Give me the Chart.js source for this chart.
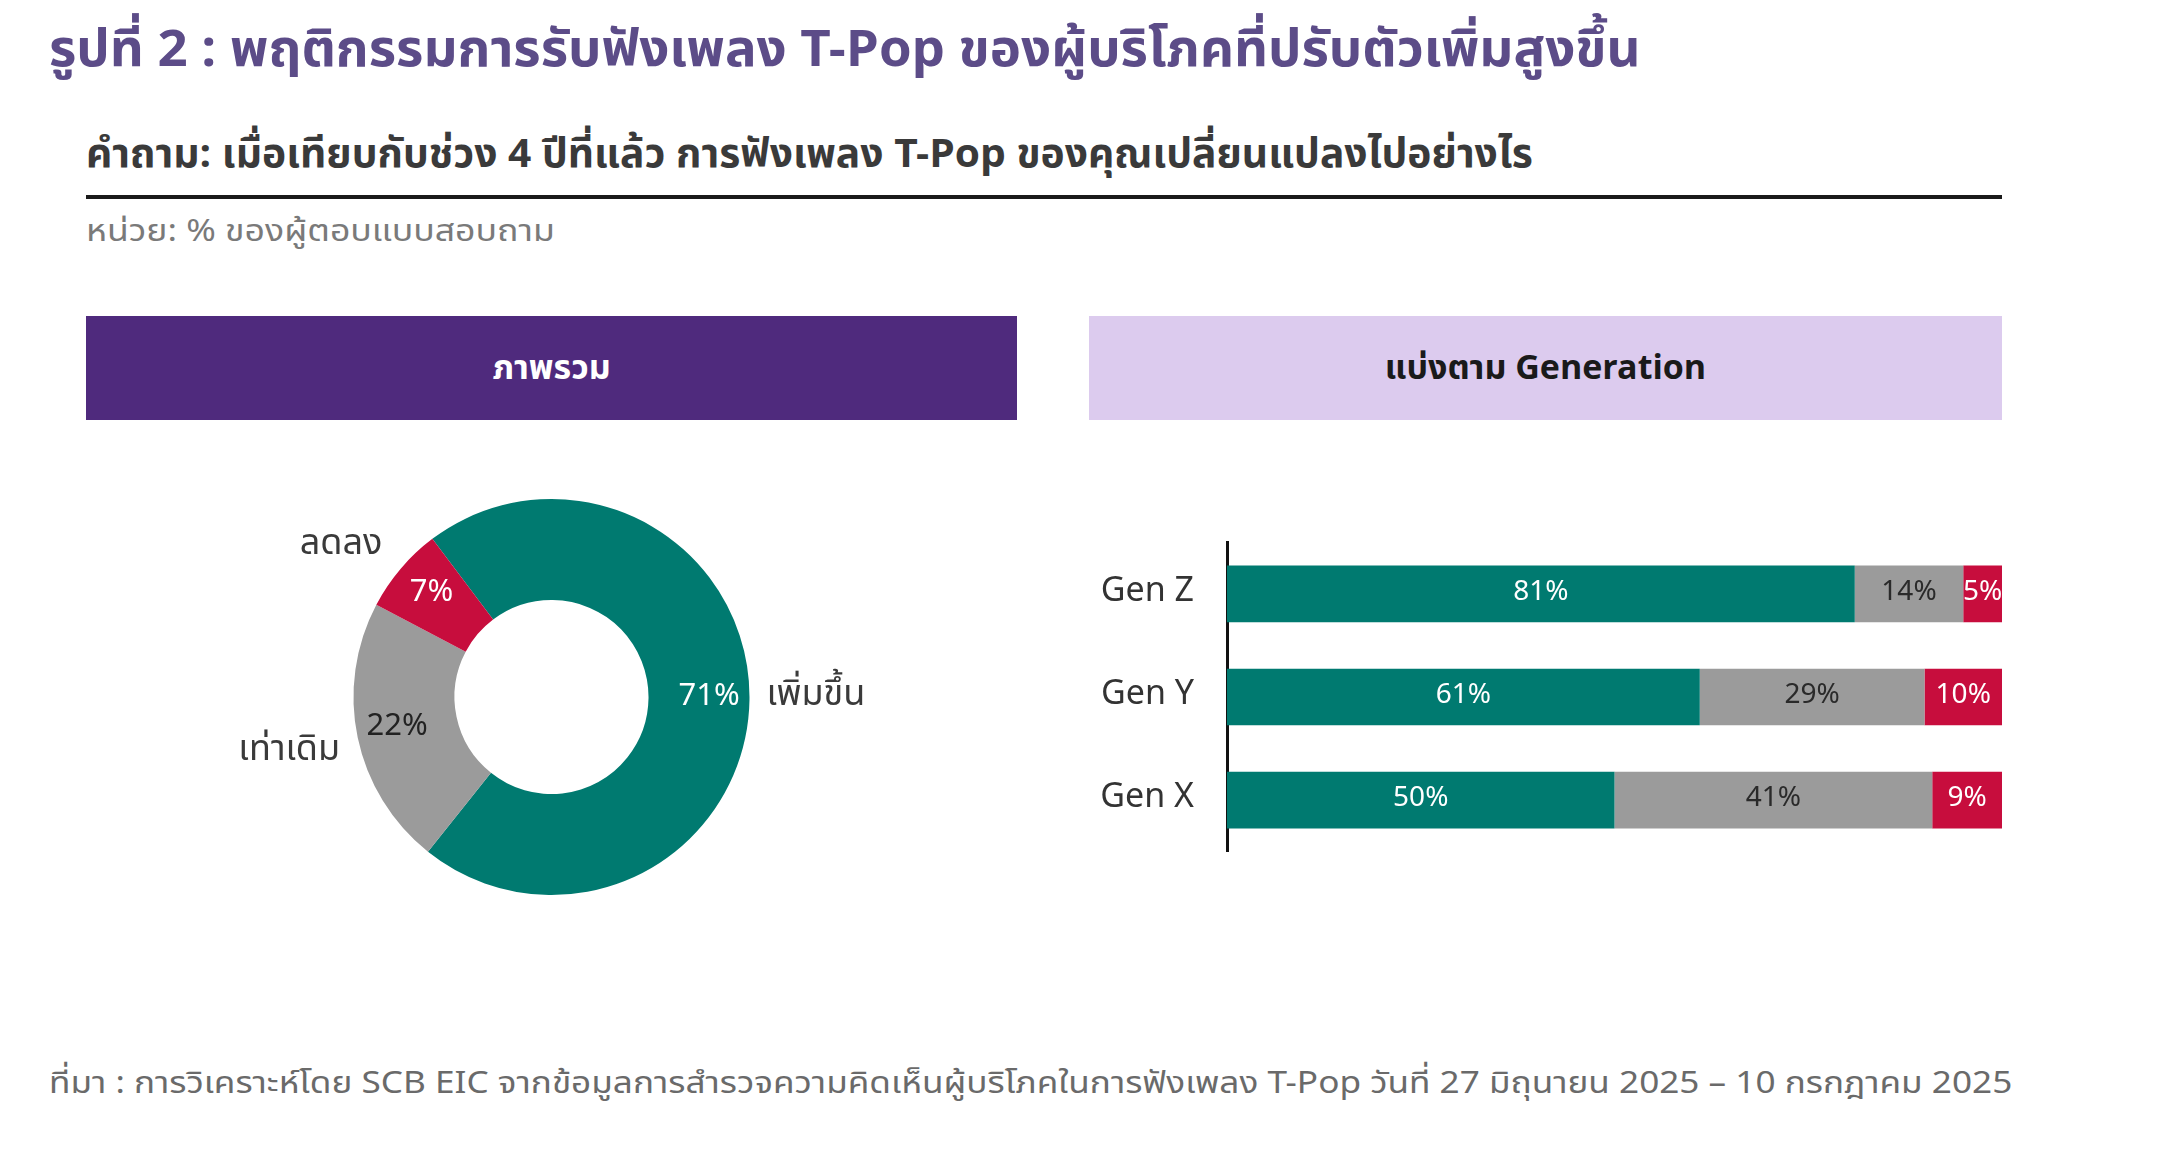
<!DOCTYPE html>
<html>
<head>
<meta charset="utf-8">
<script src="https://cdn.jsdelivr.net/npm/chart.js@4.4.1/dist/chart.umd.min.js"></script>
<style>
    html, body { margin: 0; padding: 0; background: #ffffff; }
    body { width: 2176px; height: 1150px; position: relative; overflow: hidden;
           font-family: "Noto Sans Thai", "Noto Sans", "Noto Sans CJK SC", sans-serif; }
    .txt { position: absolute; white-space: nowrap; transform-origin: left center; line-height: 1.5; }
    #title { left: 49px; top: 13px; font-size: 51px; font-weight: bold; color: #5c4c88; }
    #question { left: 86px; top: 125px; font-size: 40px; font-weight: bold; color: #3a3a3a; }
    #rule { position: absolute; left: 86px; top: 195px; width: 1916px; height: 4px; background: #1a1a1a; }
    #unit { left: 86px; top: 209px; font-size: 31px; color: #7a7a7a; }
    .banner { position: absolute; top: 316px; height: 104px; display: flex; align-items: center;
              justify-content: center; font-size: 34px; font-weight: bold; }
    #b1 { left: 86px; width: 931px; background: #4f2a7d; color: #ffffff; }
    #b2 { left: 1089px; width: 913px; background: #dccbee; color: #1a1a1a; }
    #source { left: 49px; top: 1061px; font-size: 31px; color: #6a6a6a; }
    #donutWrap { position: absolute; left: 86px; top: 432px; width: 931px; height: 530px; }
    #barWrap { position: absolute; left: 1086px; top: 489px; width: 920px; height: 416px; }
</style>
</head>
<body>
<div class="txt" id="title" data-w="1591">รูปที่ 2 : พฤติกรรมการรับฟังเพลง T-Pop ของผู้บริโภคที่ปรับตัวเพิ่มสูงขึ้น</div>
<div class="txt" id="question" data-w="1447">คำถาม: เมื่อเทียบกับช่วง 4 ปีที่แล้ว การฟังเพลง T-Pop ของคุณเปลี่ยนแปลงไปอย่างไร</div>
<div id="rule"></div>
<div class="txt" id="unit" data-w="469">หน่วย: % ของผู้ตอบแบบสอบถาม</div>
<div class="banner" id="b1">ภาพรวม</div>
<div class="banner" id="b2">แบ่งตาม Generation</div>
<div id="donutWrap"><canvas id="donutChart"></canvas></div>
<div id="barWrap"><canvas id="barChart"></canvas></div>
<div class="txt" id="source" data-w="1963">ที่มา : การวิเคราะห์โดย SCB EIC จากข้อมูลการสำรวจความคิดเห็นผู้บริโภคในการฟังเพลง T-Pop วันที่ 27 มิถุนายน 2025 – 10 กรกฎาคม 2025</div>

<script>
// Overall (ภาพรวม)
var overallLabels = ['เพิ่มขึ้น', 'เท่าเดิม', 'ลดลง'];
var overallValues = [71, 22, 7];

// By generation
var genLabels = ['Gen Z', 'Gen Y', 'Gen X'];
var increaseValues = [81, 61, 50];
var sameValues = [14, 29, 41];
var decreaseValues = [5, 10, 9];

var TEAL = '#007a70';
var GREY = '#9b9b9b';
var RED = '#c70d3d';
var FONT = '"Noto Sans Thai", "Noto Sans", sans-serif';

// stretch the heading lines to the reference width
document.querySelectorAll('.txt[data-w]').forEach(function (el) {
    var k = parseFloat(el.getAttribute('data-w')) / el.getBoundingClientRect().width;
    el.style.transform = 'scaleX(' + k.toFixed(3) + ')';
});

Chart.defaults.animation = false;
Chart.defaults.font.family = FONT;

// simple label plugin (no datalabels plugin available offline)
var donutLabels = {
    id: 'donutLabels',
    afterDatasetsDraw: function (chart) {
        var ctx = chart.ctx;
        var meta = chart.getDatasetMeta(0);
        var pctColors = ['#ffffff', '#222222', '#ffffff'];
        var nameOffsets = [17, 18, 24];
        var nameShiftY = [-2, 12, -6];
        ctx.save();
        meta.data.forEach(function (arc, i) {
            var mid = (arc.startAngle + arc.endAngle) / 2;
            var rp = arc.innerRadius + (arc.outerRadius - arc.innerRadius) * 0.6;
            ctx.font = '31px ' + FONT;
            ctx.fillStyle = pctColors[i];
            ctx.textAlign = 'center';
            ctx.textBaseline = 'middle';
            ctx.fillText(overallValues[i] + '%', arc.x + Math.cos(mid) * rp, arc.y + Math.sin(mid) * rp);

            var r = arc.outerRadius + nameOffsets[i];
            var nx = arc.x + Math.cos(mid) * r;
            var ny = arc.y + Math.sin(mid) * r + nameShiftY[i];
            ctx.font = '36px ' + FONT;
            ctx.fillStyle = '#3a3a3a';
            ctx.textAlign = Math.cos(mid) >= 0 ? 'left' : 'right';
            ctx.fillText(overallLabels[i], nx, ny);
        });
        ctx.restore();
    }
};

new Chart(document.getElementById('donutChart').getContext('2d'), {
    type: 'doughnut',
    data: {
        labels: overallLabels,
        datasets: [{
            data: overallValues,
            backgroundColor: [TEAL, GREY, RED],
            borderWidth: 0
        }]
    },
    options: {
        responsive: true,
        maintainAspectRatio: false,
        rotation: -37,
        radius: 198,
        cutout: '49%',
        plugins: {
            legend: { display: false },
            tooltip: { enabled: false }
        }
    },
    plugins: [donutLabels]
});

var barLabels = {
    id: 'barLabels',
    afterDatasetsDraw: function (chart) {
        var ctx = chart.ctx;
        var colors = ['#ffffff', '#2a2a2a', '#ffffff'];
        ctx.save();
        ctx.font = '28px ' + FONT;
        ctx.textAlign = 'center';
        ctx.textBaseline = 'middle';
        chart.data.datasets.forEach(function (ds, d) {
            chart.getDatasetMeta(d).data.forEach(function (bar, i) {
                var cx = (bar.x + bar.base) / 2;
                ctx.fillStyle = colors[d];
                ctx.fillText(ds.data[i] + '%', cx, bar.y);
            });
        });
        ctx.restore();
    }
};

new Chart(document.getElementById('barChart').getContext('2d'), {
    type: 'bar',
    data: {
        labels: genLabels,
        datasets: [
            { label: 'เพิ่มขึ้น', data: increaseValues, backgroundColor: TEAL },
            { label: 'เท่าเดิม', data: sameValues, backgroundColor: GREY },
            { label: 'ลดลง', data: decreaseValues, backgroundColor: RED }
        ]
    },
    options: {
        indexAxis: 'y',
        responsive: true,
        maintainAspectRatio: false,
        layout: { padding: { top: 18, bottom: 19, right: 4 } },
        datasets: { bar: { barPercentage: 0.55, categoryPercentage: 1, borderWidth: 0 } },
        scales: {
            x: { stacked: true, min: 0, max: 100, display: false },
            y: {
                stacked: true,
                grid: { display: false, drawTicks: false },
                border: { display: true, color: '#111111', width: 3 },
                ticks: { color: '#333333', font: { size: 34 }, padding: 33 },
                afterFit: function (scale) { scale.width = 141; }
            }
        },
        plugins: {
            legend: { display: false },
            tooltip: { enabled: false }
        }
    },
    plugins: [barLabels]
});
</script>
</body>
</html>
